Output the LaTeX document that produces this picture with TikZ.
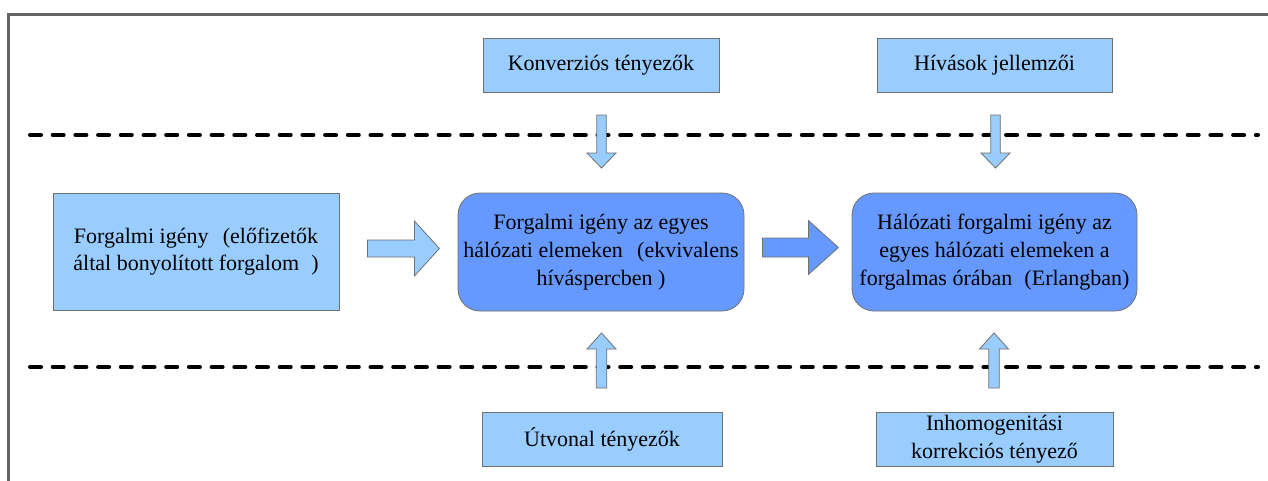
\documentclass[tikz,border=0pt]{standalone}
\usepackage{fontspec}
\setmainfont{Liberation Serif}
\usetikzlibrary{calc}
\definecolor{lblue}{RGB}{153,204,255}
\definecolor{dblue}{RGB}{102,153,255}
\definecolor{edgegray}{RGB}{112,112,112}
\definecolor{framegray}{RGB}{100,100,100}
\newcommand\blockarrow[6]{%
  \coordinate (ba-h) at ($(#2)!#5!(#1)$);
  \draw[draw=edgegray, fill=#6, line width=0.8pt, line join=miter]
    ($(#1)!#3!90:(#2)$) -- ($(ba-h)!#3!90:(#2)$) -- ($(ba-h)!#4!90:(#2)$) -- (#2)
    -- ($(ba-h)!#4!-90:(#2)$) -- ($(ba-h)!#3!-90:(#2)$) -- ($(#1)!#3!-90:(#2)$) -- cycle;}
\tikzset{
  lbox/.style={draw=edgegray, line width=0.8pt, fill=lblue, align=center, inner sep=0pt,
    font=\fontsize{22}{27.5}\selectfont},
  rbox/.style={draw=edgegray, line width=0.8pt, fill=dblue, rounded corners=22pt, align=center,
    inner sep=0pt, font=\fontsize{22}{27.8}\selectfont},
  sepline/.style={line width=4pt, line cap=round, dash pattern=on 11pt off 11.7pt},
}
\begin{document}
\begin{tikzpicture}[x=1pt, y=-1pt]
\useasboundingbox (0,0) rectangle (1268,480);
\fill[white] (0,0) rectangle (1268,480);
% frame
\draw[framegray, line width=3pt] (1275,14) -- (8,14) -- (8,490);
% separators
\coordinate (s1a) at (30,135); \coordinate (s1b) at (1258,135);
\coordinate (s2a) at (30,367); \coordinate (s2b) at (1258,367);
\draw[sepline] (s1a) -- (s1b);
\draw[sepline] (s2a) -- (s2b);
% nodes
\node[lbox, minimum width=286pt, minimum height=117pt] (left) at (196,251.5)
  {Forgalmi igény\hspace{0.4em} (előfizetők\\által bonyolított forgalom\hspace{0.3em} )};
\node[lbox, minimum width=236pt, minimum height=54pt] (konv) at (601,65) {Konverziós tényezők};
\node[lbox, minimum width=235pt, minimum height=54pt] (hiv) at (994.5,65) {Hívások jellemzői};
\node[rbox, minimum width=286pt, minimum height=118pt] (mid) at (601,252)
  {Forgalmi igény az egyes\\hálózati elemeken\hspace{0.4em} (ekvivalens\\híváspercben )};
\node[rbox, minimum width=285pt, minimum height=118pt] (right) at (994.5,252)
  {Hálózati forgalmi igény az\\egyes hálózati elemeken a\\forgalmas órában\hspace{0.3em} (Erlangban)};
\node[lbox, minimum width=240pt, minimum height=54pt] (utv) at (602,439) {Útvonal tényezők};
\node[lbox, minimum width=237pt, minimum height=54pt] (inh) at (994.5,439)
  {Inhomogenitási\\korrekciós tényező};
% arrow end points
\coordinate (d1t) at (601.5,115); \coordinate (d1h) at (601.5,168);
\coordinate (d2t) at (995.5,115); \coordinate (d2h) at (995.5,168);
\coordinate (u1t) at (601.5,388); \coordinate (u1h) at (601.5,333);
\coordinate (u2t) at (994,388);   \coordinate (u2h) at (994,333);
\coordinate (h1t) at ($(left.east)+(28,-3)$); \coordinate (h1h) at ($(left.east)+(100,-3)$);
\coordinate (h2t) at ($(mid.east)+(18,-4.5)$); \coordinate (h2h) at ($(mid.east)+(94,-4.5)$);
% block arrows
\blockarrow{d1t}{d1h}{4.75pt}{14.5pt}{15pt}{lblue}
\blockarrow{d2t}{d2h}{4.75pt}{14.5pt}{15pt}{lblue}
\blockarrow{u1t}{u1h}{5.25pt}{14.5pt}{16pt}{lblue}
\blockarrow{u2t}{u2h}{5.25pt}{14.5pt}{16pt}{lblue}
\blockarrow{h1t}{h1h}{8.5pt}{27.5pt}{25pt}{lblue}
\blockarrow{h2t}{h2h}{9.5pt}{27pt}{30pt}{dblue}
\end{tikzpicture}
\end{document}
